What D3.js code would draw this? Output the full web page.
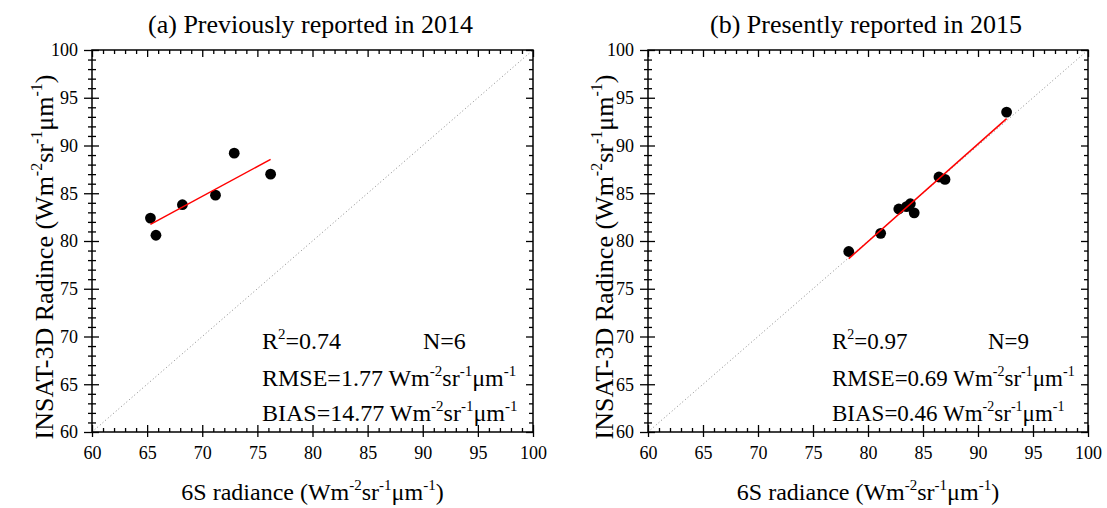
<!DOCTYPE html>
<html>
<head>
<meta charset="utf-8">
<script src="https://cdn.jsdelivr.net/npm/d3@7"></script>
<style>
  body { margin: 0; background: #fff; }
  svg text { font-family: 'Liberation Serif', 'Times New Roman', serif; fill: #000; }
</style>
</head>
<body>
<div id="chart"></div>
<script>
// panel titles
const titles = ["(a) Previously reported in 2014", "(b) Presently reported in 2015"];

// 6S radiance (x) vs INSAT-3D radiance (y)
const x2014 = [65.3, 65.8, 68.2, 71.2, 72.9, 76.2];
const y2014 = [82.4, 80.6, 83.8, 84.8, 89.2, 87.0];
const x2015 = [78.25, 81.15, 82.8, 83.5, 83.85, 84.2, 86.45, 87.0, 92.6];
const y2015 = [78.9, 80.8, 83.35, 83.6, 83.9, 82.95, 86.7, 86.45, 93.5];

// statistics printed in each panel
const r2Values = ["0.74", "0.97"];
const nValues = ["6", "9"];
const rmseValues = ["1.77", "0.69"];
const biasValues = ["14.77", "0.46"];

// axis ticks
const majorTicks = [60, 65, 70, 75, 80, 85, 90, 95, 100];
const minorTicks = [61, 62, 63, 64, 66, 67, 68, 69, 71, 72, 73, 74, 76, 77, 78, 79,
                    81, 82, 83, 84, 86, 87, 88, 89, 91, 92, 93, 94, 96, 97, 98, 99];
const domain = [60, 100];

const FONT = "'Liberation Serif', 'Times New Roman', serif";

const svg = d3.select("#chart")
  .append("svg")
  .attr("width", 1107)
  .attr("height", 508)
  .style("font-family", FONT);

const plotTop = 50, plotBottom = 432;

// layout of the two panels
const panels = [
  { left: 92, right: 533, xs: x2014, ys: y2014, statX: 170, nX: 331, yTitleX: 53, fs: 24, sup: 15 },
  { left: 648, right: 1088, xs: x2015, ys: y2015, statX: 184, nX: 340, yTitleX: 613, fs: 23, sup: 14 }
];

// appends "Wm-2 sr-1 µm-1" with superscripts to a text element
function appendUnit(textSel, supSize, rise) {
  const parts = [["Wm", false], ["-2", true], ["sr", false], ["-1", true], ["\u03bcm", false], ["-1", true]];
  let raised = false;
  parts.forEach(([str, sup]) => {
    const t = textSel.append("tspan").text(str);
    if (sup && !raised) { t.attr("dy", -rise).style("font-size", supSize + "px"); raised = true; }
    else if (sup) { t.style("font-size", supSize + "px"); }
    else if (raised) { t.attr("dy", rise); raised = false; }
  });
  return raised;
}

panels.forEach((p, i) => {
  const x = d3.scaleLinear().domain(domain).range([p.left, p.right]);
  const y = d3.scaleLinear().domain(domain).range([plotBottom, plotTop]);
  const g = svg.append("g");

  // 1:1 reference line
  g.append("line")
    .attr("x1", x(60)).attr("y1", y(60))
    .attr("x2", x(100)).attr("y2", y(100))
    .attr("stroke", "#888")
    .attr("stroke-width", 1)
    .attr("stroke-dasharray", "1,2.5");

  // frame
  g.append("rect")
    .attr("x", p.left).attr("y", plotTop)
    .attr("width", p.right - p.left).attr("height", plotBottom - plotTop)
    .attr("fill", "none")
    .attr("stroke", "#000")
    .attr("stroke-width", 1.5);

  // bottom + left axes: ticks on both sides
  g.append("g")
    .attr("transform", `translate(0,${plotBottom})`)
    .call(d3.axisBottom(x).tickValues(majorTicks).tickSizeInner(-7).tickSizeOuter(0).tickPadding(14))
    .call(a => a.selectAll(".tick line").clone().attr("y2", 5))
    .call(a => a.select(".domain").remove());
  g.append("g")
    .attr("transform", `translate(0,${plotBottom})`)
    .call(d3.axisBottom(x).tickValues(minorTicks).tickSize(-4).tickFormat(""))
    .call(a => a.select(".domain").remove());

  g.append("g")
    .attr("transform", `translate(${p.left},0)`)
    .call(d3.axisLeft(y).tickValues(majorTicks).tickSizeInner(-7).tickSizeOuter(0).tickPadding(14))
    .call(a => a.selectAll(".tick line").clone().attr("x2", -8))
    .call(a => a.select(".domain").remove());
  g.append("g")
    .attr("transform", `translate(${p.left},0)`)
    .call(d3.axisLeft(y).tickValues(minorTicks).tickSize(-4).tickFormat(""))
    .call(a => a.selectAll(".tick line").clone().attr("x2", -4))
    .call(a => a.select(".domain").remove());

  // top + right axes: inward ticks, no labels
  g.append("g")
    .attr("transform", `translate(0,${plotTop})`)
    .call(d3.axisTop(x).tickValues(majorTicks).tickSize(-7).tickFormat(""))
    .call(a => a.select(".domain").remove());
  g.append("g")
    .attr("transform", `translate(0,${plotTop})`)
    .call(d3.axisTop(x).tickValues(minorTicks).tickSize(-4).tickFormat(""))
    .call(a => a.select(".domain").remove());
  g.append("g")
    .attr("transform", `translate(${p.right},0)`)
    .call(d3.axisRight(y).tickValues(majorTicks).tickSize(-7).tickFormat(""))
    .call(a => a.select(".domain").remove());
  g.append("g")
    .attr("transform", `translate(${p.right},0)`)
    .call(d3.axisRight(y).tickValues(minorTicks).tickSize(-4).tickFormat(""))
    .call(a => a.select(".domain").remove());

  g.selectAll(".tick line").attr("stroke", "#000").attr("stroke-width", 1.3);
  g.selectAll("g").attr("font-family", FONT).attr("font-size", 18);
  g.selectAll(".tick text").style("font-family", FONT).style("font-size", "18px");

  // least squares fit
  const pts = p.xs.map((v, k) => [v, p.ys[k]]);
  const mx = d3.mean(p.xs), my = d3.mean(p.ys);
  const slope = d3.sum(pts, d => (d[0] - mx) * (d[1] - my)) / d3.sum(pts, d => (d[0] - mx) ** 2);
  const intercept = my - slope * mx;
  const [xmin, xmax] = d3.extent(p.xs);

  g.selectAll("circle")
    .data(pts)
    .join("circle")
    .attr("cx", d => x(d[0]))
    .attr("cy", d => y(d[1]))
    .attr("r", 5.4)
    .attr("fill", "#000");

  g.append("line")
    .attr("x1", x(xmin)).attr("y1", y(intercept + slope * xmin))
    .attr("x2", x(xmax)).attr("y2", y(intercept + slope * xmax))
    .attr("stroke", "#ff0000")
    .attr("stroke-width", 1.5);

  // statistics text
  const sx = p.left + p.statX;
  const r2 = g.append("text").attr("x", sx).attr("y", 349).style("font-size", p.fs + "px");
  r2.append("tspan").text("R");
  r2.append("tspan").text("2").attr("dy", -10).style("font-size", p.sup + "px");
  r2.append("tspan").text("=" + r2Values[i]).attr("dy", 10);

  g.append("text").attr("x", p.left + p.nX).attr("y", 349)
    .style("font-size", p.fs + "px")
    .text("N=" + nValues[i]);

  const rmse = g.append("text").attr("x", sx).attr("y", 386).style("font-size", p.fs + "px");
  rmse.append("tspan").text("RMSE=" + rmseValues[i] + " ");
  appendUnit(rmse, p.sup, 10);

  const bias = g.append("text").attr("x", sx).attr("y", 421).style("font-size", p.fs + "px");
  bias.append("tspan").text("BIAS=" + biasValues[i] + " ");
  appendUnit(bias, p.sup, 10);

  // panel title
  svg.append("text")
    .attr("x", (p.left + p.right) / 2 - 2)
    .attr("y", 33)
    .attr("text-anchor", "middle")
    .style("font-size", "26px")
    .text(titles[i]);

  // x axis title
  const xt = svg.append("text")
    .attr("x", (p.left + p.right) / 2)
    .attr("y", 500)
    .attr("text-anchor", "middle")
    .style("font-size", "24px");
  xt.append("tspan").text("6S radiance (");
  appendUnit(xt, 15, 10);
  xt.append("tspan").text(")").attr("dy", 10);

  // y axis title
  const yt = svg.append("text")
    .attr("transform", `translate(${p.yTitleX},257) rotate(-90)`)
    .attr("text-anchor", "middle")
    .style("font-size", "26px");
  yt.append("tspan").text("INSAT-3D Radince (");
  appendUnit(yt, 16, 11);
  yt.append("tspan").text(")").attr("dy", 11);
});
</script>
</body>
</html>
